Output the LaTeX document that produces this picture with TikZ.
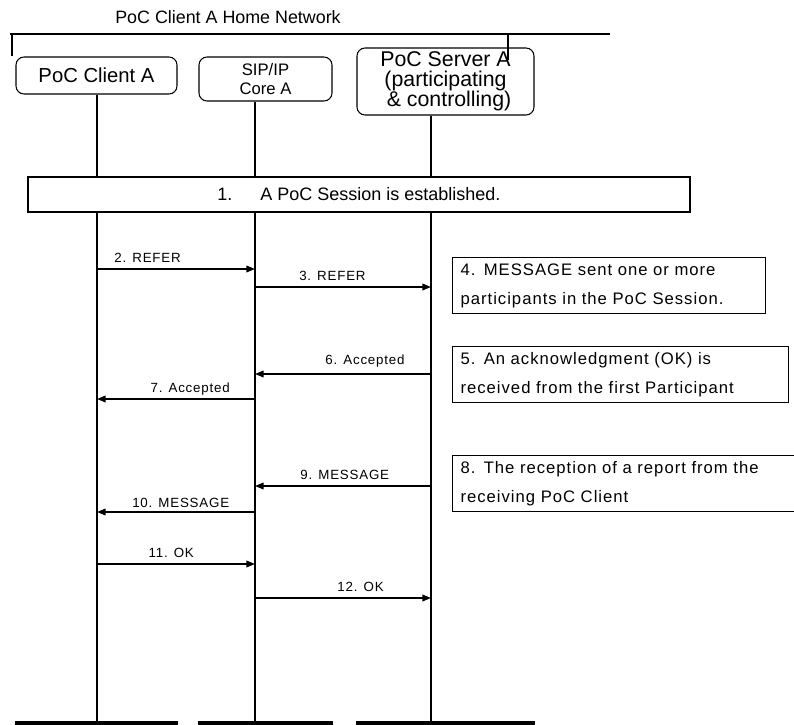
\documentclass[tikz,border=0pt]{standalone}
\usepackage{fontspec}
\setmainfont{Liberation Sans}
\newfontfamily\gulimfont[LetterSpace=6]{Liberation Sans}
\usetikzlibrary{arrows.meta,positioning}
\tikzset{
  entity/.style={
    draw=black,
    line width=0.8pt,
    rounded corners=6pt,
    align=center,
    inner sep=0pt
  },
  lifeline/.style={draw=black, line width=0.8pt},
  basebar/.style={draw=black, line width=2.6pt},
  msg/.style={-{Triangle[length=6.5pt,width=5pt]}, line width=1.1pt, draw=black},
  msglabel/.style={font=\gulimfont\fontsize{10}{12}\selectfont, inner sep=0pt, above=4.5pt},
  notebox/.style={
    draw=black,
    line width=0.8pt,
    align=left,
    anchor=north west,
    inner xsep=6pt,
    minimum height=42pt,
    font=\gulimfont\fontsize{12.5}{21.75}\selectfont
  },
  sessbox/.style={draw=black, line width=0.8pt, minimum width=496.5pt, minimum height=26.25pt,
    font=\fontsize{13.5}{16}\selectfont}
}
\begin{document}
\begin{tikzpicture}[x=0.75pt, y=-0.75pt]
  \useasboundingbox (0,0) rectangle (794,725);
  \node[font=\fontsize{13.4}{16}\selectfont] (homenet) at (228,17) {PoC Client A Home Network};
  \coordinate (netL) at (10,34);
  \coordinate (netR) at (610,34);
  \draw[line width=0.8pt] (netL) -- (netR);
  \draw[line width=0.8pt] (netL -| 12,0) -- (12,56);
  \draw[line width=0.8pt] (netL -| 508,0) -- (508,60);

  \node[entity, minimum width=120.75pt, minimum height=27.75pt, font=\fontsize{15.2}{18}\selectfont]
    (client) at (96.5,75.5) {PoC Client A};
  \node[entity, minimum width=99.75pt, minimum height=33pt, font=\fontsize{12.5}{14.25}\selectfont]
    (core) at (265.5,79) {SIP/IP\\Core A};
  \node[entity, minimum width=132.75pt, minimum height=50.25pt, font=\fontsize{16}{15}\selectfont]
    (server) at (445.5,81.5) {PoC Server A\\(participating\\\,\,\& controlling)};

  \coordinate (lA) at (97,723);
  \coordinate (lB) at (255,723);
  \coordinate (lC) at (431,723);
  \draw[lifeline] (client.south -| lA) -- (lA);
  \draw[lifeline] (core.south -| lB) -- (lB);
  \draw[lifeline] (server.south -| lC) -- (lC);
  \draw[basebar] (client.west |- lA) -- (client.east |- lA);
  \draw[basebar] (core.west |- lB) -- (core.east |- lB);
  \draw[basebar] (server.west |- lC) -- (server.east |- lC);

  \node[sessbox, fill=white] (sess) at (359,194.5) {1.\hspace{1.55em}A PoC Session is established.};

  \draw[msg] (lA |- 0,269) -- (lB |- 0,269) node[msglabel, pos=0.32] (m2) {2. REFER};
  \draw[msg] (lB |- 0,287) -- (lC |- 0,287) node[msglabel, pos=0.44] (m3) {3. REFER};
  \node[notebox, text width=222.75pt] (note4) at (452,257)
    {4. MESSAGE sent one or more\\participants in the PoC Session.};
  \draw[msg] (lC |- 0,374) -- (lB |- 0,374) node[msglabel, pos=0.375] (m6) {6. Accepted};
  \draw[msg] (lB |- 0,399) -- (lA |- 0,399) node[msglabel, pos=0.41, above=2.5pt] (m7) {7. Accepted};
  \node[notebox, text width=240pt] (note5) at (452,346)
    {5. An acknowledgment (OK) is\\received from the first Participant};
  \draw[msg] (lC |- 0,486) -- (lB |- 0,486) node[msglabel, pos=0.49] (m9) {9. MESSAGE};
  \draw[msg] (lB |- 0,512) -- (lA |- 0,512) node[msglabel, pos=0.47, above=3pt] (m10) {10. MESSAGE};
  \node[notebox, text width=249pt] (note8) at (452,455)
    {8. The reception of a report from the\\receiving PoC Client};
  \draw[msg] (lA |- 0,564) -- (lB |- 0,564) node[msglabel, pos=0.47] (m11) {11. OK};
  \draw[msg] (lB |- 0,598) -- (lC |- 0,598) node[msglabel, pos=0.6] (m12) {12. OK};
\end{tikzpicture}
\end{document}
